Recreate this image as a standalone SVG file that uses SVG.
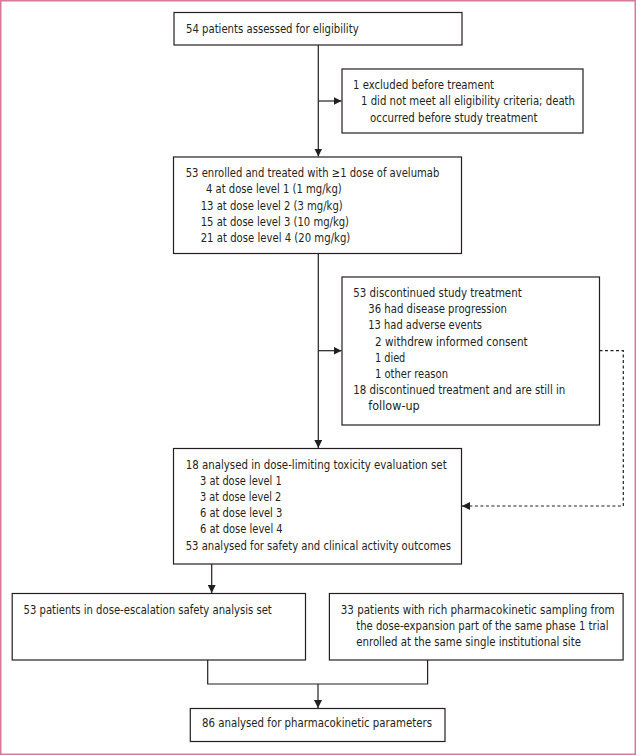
<svg xmlns="http://www.w3.org/2000/svg" width="636" height="755" viewBox="0 0 636 755">
<style>
.box{fill:#fff;stroke:#231f20;stroke-width:1.2}
.t{font-family:"Liberation Sans Narrow","DejaVu Sans Condensed","Liberation Sans",sans-serif;font-size:12.5px;fill:#231f20}
.s{font-size:11.5px}
.ln{fill:none;stroke:#231f20;stroke-width:1.2}
.dl{fill:none;stroke:#231f20;stroke-width:1.2;stroke-dasharray:3 2.5}
</style>
<defs>
<marker id="ah" viewBox="0 0 10 10" refX="10" refY="5" markerWidth="8" markerHeight="8" markerUnits="userSpaceOnUse" orient="auto">
<path d="M0,0 L10,5 L0,10 z" fill="#231f20"/>
</marker>
</defs>
<rect x="0.75" y="0.75" width="634.5" height="753.5" fill="#fff" stroke="#d67a9a" stroke-width="1.5"/>
<g id="connectors">
<line class="ln" x1="318.3" y1="45" x2="318.3" y2="156.5" marker-end="url(#ah)"/>
<line class="ln" x1="318.3" y1="101" x2="341.5" y2="101" marker-end="url(#ah)"/>
<line class="ln" x1="318.3" y1="253.5" x2="318.3" y2="448" marker-end="url(#ah)"/>
<line class="ln" x1="318.3" y1="350.7" x2="341.5" y2="350.7" marker-end="url(#ah)"/>
<polyline class="dl" points="599.5,350.7 623.3,350.7 623.3,506 470,506"/>
<line class="ln" x1="470" y1="506" x2="462" y2="506" marker-end="url(#ah)"/>
<line class="ln" x1="211.7" y1="564" x2="211.7" y2="593" marker-end="url(#ah)"/>
<polyline class="ln" points="207.7,660 207.7,684 427.6,684 427.6,660"/>
<line class="ln" x1="318" y1="684" x2="318" y2="708" marker-end="url(#ah)"/>
</g>
<g id="n1">
<rect class="box" x="174" y="12.5" width="288" height="32.5"/>
<text class="t" x="186" y="33" textLength="172.6" lengthAdjust="spacingAndGlyphs">54 patients assessed for eligibility</text>
</g>
<g id="n2">
<rect class="box" x="342" y="69" width="241" height="64"/>
<text class="t" x="353" y="89" textLength="141" lengthAdjust="spacingAndGlyphs">1 excluded before treament</text>
<text class="t" x="361" y="105" textLength="214" lengthAdjust="spacingAndGlyphs">1 did not meet all eligibility criteria; death</text>
<text class="t" x="370" y="121.5" textLength="167.5" lengthAdjust="spacingAndGlyphs">occurred before study treatment</text>
</g>
<g id="n3">
<rect class="box" x="173.5" y="157" width="288" height="96.5"/>
<text class="t" x="185.7" y="177" textLength="253.6" lengthAdjust="spacingAndGlyphs">53 enrolled and treated with ≥1 dose of avelumab</text>
<text class="t" x="206" y="193.3" textLength="135.7" lengthAdjust="spacingAndGlyphs">4 at dose level 1 (1 mg/kg)</text>
<text class="t" x="200.7" y="209.6" textLength="142" lengthAdjust="spacingAndGlyphs">13 at dose level 2 (3 mg/kg)</text>
<text class="t" x="200.7" y="225.9" textLength="148.3" lengthAdjust="spacingAndGlyphs">15 at dose level 3 (10 mg/kg)</text>
<text class="t" x="200.7" y="242.2" textLength="149.6" lengthAdjust="spacingAndGlyphs">21 at dose level 4 (20 mg/kg)</text>
</g>
<g id="n4">
<rect class="box" x="342" y="277" width="257.5" height="148"/>
<text class="t" x="353.3" y="297" textLength="168.4" lengthAdjust="spacingAndGlyphs">53 discontinued study treatment</text>
<text class="t" x="368.3" y="313.2" textLength="138.7" lengthAdjust="spacingAndGlyphs">36 had disease progression</text>
<text class="t" x="368.3" y="329.4" textLength="113.7" lengthAdjust="spacingAndGlyphs">13 had adverse events</text>
<text class="t" x="375" y="345.6" textLength="152.7" lengthAdjust="spacingAndGlyphs">2 withdrew informed consent</text>
<text class="t" x="375" y="361.8" textLength="30.3" lengthAdjust="spacingAndGlyphs">1 died</text>
<text class="t" x="375" y="378" textLength="73" lengthAdjust="spacingAndGlyphs">1 other reason</text>
<text class="t" x="353.3" y="394.2" textLength="212" lengthAdjust="spacingAndGlyphs">18 discontinued treatment and are still in</text>
<text class="t" x="368.3" y="410.4" textLength="51.4" lengthAdjust="spacingAndGlyphs">follow-up</text>
</g>
<g id="n5">
<rect class="box" x="173.5" y="448.5" width="288" height="115.5"/>
<text class="t" x="185.7" y="468.5" textLength="261" lengthAdjust="spacingAndGlyphs">18 analysed in dose-limiting toxicity evaluation set</text>
<text class="t" x="200" y="484.7" textLength="81.7" lengthAdjust="spacingAndGlyphs">3 at dose level 1</text>
<text class="t" x="200" y="500.9" textLength="81.3" lengthAdjust="spacingAndGlyphs">3 at dose level 2</text>
<text class="t" x="200" y="517.1" textLength="82.3" lengthAdjust="spacingAndGlyphs">6 at dose level 3</text>
<text class="t" x="200" y="533.3" textLength="82.7" lengthAdjust="spacingAndGlyphs">6 at dose level 4</text>
<text class="t" x="185.7" y="549.5" textLength="265.3" lengthAdjust="spacingAndGlyphs">53 analysed for safety and clinical activity outcomes</text>
</g>
<g id="n6">
<rect class="box" x="12.2" y="593.5" width="293.3" height="66.5"/>
<text class="t" x="23.5" y="614" textLength="248.3" lengthAdjust="spacingAndGlyphs">53 patients in dose-escalation safety analysis set</text>
</g>
<g id="n7">
<rect class="box" x="329.4" y="593.5" width="293.7" height="66.5"/>
<text class="t s" x="340.8" y="614" textLength="273.8" lengthAdjust="spacingAndGlyphs">33 patients with rich pharmacokinetic sampling from</text>
<text class="t s" x="356.2" y="630" textLength="252.3" lengthAdjust="spacingAndGlyphs">the dose-expansion part of the same phase 1 trial</text>
<text class="t s" x="356.2" y="645.7" textLength="224.8" lengthAdjust="spacingAndGlyphs">enrolled at the same single institutional site</text>
</g>
<g id="n8">
<rect class="box" x="190.3" y="708.5" width="254.7" height="33"/>
<text class="t" x="202" y="727" textLength="230" lengthAdjust="spacingAndGlyphs">86 analysed for pharmacokinetic parameters</text>
</g>
</svg>
